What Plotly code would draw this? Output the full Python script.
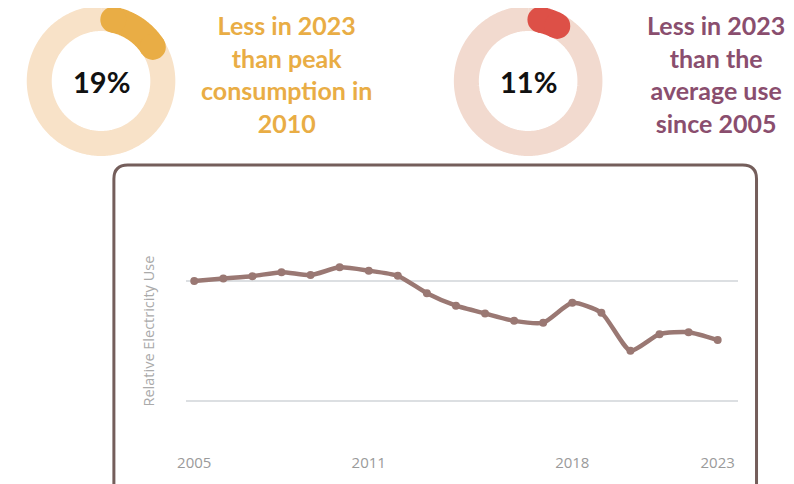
import math
import plotly.graph_objects as go

W, H = 794, 484
OFF = 8  # page offset of the plot div

# ---- data ----
years = list(range(2005, 2024))
relative_use = [100.0, 100.7, 101.3, 102.4, 101.6, 103.7, 102.8, 101.4, 96.7, 93.3,
                91.2, 89.2, 88.7, 94.1, 91.4, 81.1, 85.6, 86.1, 84.0]
tick_years = [2005, 2011, 2018, 2023]
grid_values = [67.5, 100.0]

peak_drop_pct = 19
avg_drop_pct = 11
left_caption = "Less in 2023<br>than peak<br>consumption in<br>2010"
right_caption = "Less in 2023<br>than the<br>average use<br>since 2005"


def px_x(p):
    return (p - OFF) / W


def px_y(p):
    return 1 - (p - OFF) / H


fig = go.Figure()

# ---- donut gauges, drawn on a pixel-scaled overlay axis ----
RING_MID, RING_W = 62.5, 25
CAP_DEG = math.degrees((RING_W / 2) / RING_MID)


def arc_points(cx, cy, a0, a1, n=120):
    xs, ys = [], []
    for i in range(n + 1):
        a = math.radians(a0 + (a1 - a0) * i / n)
        xs.append(cx + RING_MID * math.sin(a))
        ys.append(cy - RING_MID * math.cos(a))
    return xs, ys


def add_gauge(cx, cy, pct, ring_color, arc_color):
    xs, ys = arc_points(cx, cy, 0, 360, 360)
    fig.add_trace(go.Scatter(x=xs, y=ys, mode="lines", xaxis="x2", yaxis="y2",
                             line=dict(color=ring_color, width=RING_W, simplify=False),
                             hoverinfo="skip", showlegend=False))
    end = pct / 100 * 360
    a0, a1 = CAP_DEG, max(CAP_DEG, end - CAP_DEG)
    xs, ys = arc_points(cx, cy, a0, a1, 80)
    fig.add_trace(go.Scatter(x=xs, y=ys, mode="lines", xaxis="x2", yaxis="y2",
                             line=dict(color=arc_color, width=RING_W + 1, simplify=False),
                             hoverinfo="skip", showlegend=False))
    fig.add_trace(go.Scatter(x=[xs[0], xs[-1]], y=[ys[0], ys[-1]], mode="markers",
                             xaxis="x2", yaxis="y2",
                             marker=dict(color=arc_color, size=RING_W + 1, line=dict(width=0)),
                             hoverinfo="skip", showlegend=False))


add_gauge(93, 81, peak_drop_pct, "#f8e2c8", "#e9ad45")
add_gauge(525, 81, avg_drop_pct, "#f2dacf", "#dd5047")

# ---- line chart ----
fig.add_trace(go.Scatter(
    x=years, y=relative_use, mode="lines+markers",
    line=dict(color="#9a7873", width=4.5, shape="spline", smoothing=0.6),
    marker=dict(color="#9a7873", size=8),
    showlegend=False, hoverinfo="skip",
))

fig.update_layout(
    width=W, height=H, margin=dict(l=0, r=0, t=0, b=0),
    paper_bgcolor="white", plot_bgcolor="rgba(0,0,0,0)",
    xaxis=dict(
        domain=[px_x(179), px_x(737)], range=[2004.718, 2023.69],
        tickvals=tick_years, ticktext=[str(y) for y in tick_years],
        showgrid=False, zeroline=False, showline=False,
        ticks="", tickfont=dict(family="Open Sans", size=15, color="#9a9a9a"),
    ),
    yaxis=dict(
        domain=[px_y(452), px_y(200)],
        range=[(650 - 452) / 3.69, (650 - 200) / 3.69],
        tickvals=grid_values, showticklabels=False,
        showgrid=True, gridcolor="#dcdfe2", gridwidth=2,
        zeroline=False, showline=False,
    ),
    xaxis2=dict(domain=[0, 1], range=[OFF, W + OFF], visible=False, anchor="y2",
                fixedrange=True),
    yaxis2=dict(domain=[0, 1], range=[H + OFF, OFF], visible=False, anchor="x2",
                fixedrange=True),
)

# rounded frame
x0, x1, y0, y1, r = 106, 756, 165, 500, 14
path = (
    f"M {px_x(x0 + r)} {px_y(y0)} L {px_x(x1 - r)} {px_y(y0)} "
    f"Q {px_x(x1)} {px_y(y0)} {px_x(x1)} {px_y(y0 + r)} "
    f"L {px_x(x1)} {px_y(y1 - r)} Q {px_x(x1)} {px_y(y1)} {px_x(x1 - r)} {px_y(y1)} "
    f"L {px_x(x0 + r)} {px_y(y1)} Q {px_x(x0)} {px_y(y1)} {px_x(x0)} {px_y(y1 - r)} "
    f"L {px_x(x0)} {px_y(y0 + r)} Q {px_x(x0)} {px_y(y0)} {px_x(x0 + r)} {px_y(y0)} Z"
)
fig.add_shape(type="path", path=path, xref="paper", yref="paper",
              line=dict(color="#745e5b", width=3), layer="above")

annotations = [
    dict(x=px_x(93), y=px_y(81), text=f"{peak_drop_pct}%",
         font=dict(family="Lato", size=29, color="#111111", weight="bold")),
    dict(x=px_x(525), y=px_y(81), text=f"{avg_drop_pct}%",
         font=dict(family="Lato", size=29, color="#111111", weight="bold")),
    dict(x=px_x(281), y=px_y(74), text=left_caption, align="center",
         font=dict(family="Lato", size=25, color="#e9ad45", weight="bold")),
    dict(x=px_x(715), y=px_y(74), text=right_caption, align="center",
         font=dict(family="Lato", size=25, color="#8a4e6e", weight="bold")),
    dict(x=px_x(140), y=px_y(331), text="Relative Electricity Use", textangle=-90,
         font=dict(family="Open Sans", size=14.5, color="#aaaaaa")),
]
for a in annotations:
    fig.add_annotation(xref="paper", yref="paper", showarrow=False,
                       xanchor="center", yanchor="middle", **a)

fig.write_html("out.html")
